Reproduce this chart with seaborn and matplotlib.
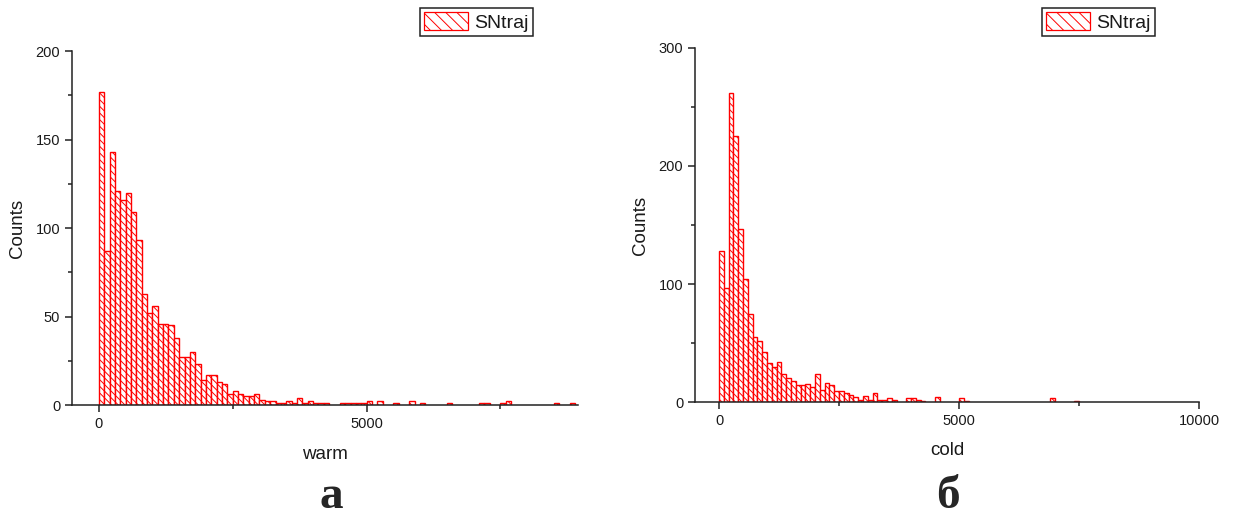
import matplotlib
matplotlib.use('Agg')
from matplotlib import pyplot as plt
import matplotlib.patches as mpatches
from matplotlib.ticker import MultipleLocator
import numpy as np
import pandas as pd
import seaborn as sns

# histogram counts, 100-wide bins starting at 0
bin_width = 100
warm_counts = [177, 87, 143, 121, 116, 120, 109, 93, 63, 52,
               56, 46, 46, 45, 38, 27, 27, 30, 23, 14,
               17, 17, 13, 12, 6, 8, 6, 5, 5, 6,
               3, 2, 2, 1, 1, 2, 1, 4, 1, 2,
               1, 1, 1, 0, 0, 1, 1, 1, 1, 1,
               2, 0, 2, 0, 0, 1, 0, 0, 2, 0,
               1, 0, 0, 0, 0, 1, 0, 0, 0, 0,
               0, 1, 1, 0, 0, 1, 2, 0, 0, 0,
               0, 0, 0, 0, 0, 1, 0, 0, 1]
cold_counts = [128, 97, 262, 225, 147, 104, 75, 55, 52, 42,
               33, 30, 34, 24, 20, 18, 14, 14, 15, 13,
               24, 10, 16, 14, 9, 9, 8, 6, 4, 2,
               5, 2, 8, 2, 2, 3, 2, 0, 0, 3,
               3, 2, 1, 0, 0, 4, 0, 0, 0, 0,
               3, 1, 0, 0, 0, 0, 0, 0, 0, 0,
               0, 0, 0, 0, 0, 0, 0, 0, 0, 3,
               0, 0, 0, 0, 1]

sns.set_style('ticks')
plt.rcParams['font.family'] = ['Liberation Sans', 'DejaVu Sans']
plt.rcParams['hatch.color'] = 'red'
plt.rcParams['hatch.linewidth'] = 0.7

HATCH_BAR = '\\\\\\\\\\'
HATCH_LEG = '\\\\\\'
TXT = '#1a1a1a'


def draw_hist(ax, counts, xlabel, xlim, ymax, ymajor):
    n = len(counts)
    df = pd.DataFrame({'value': np.arange(n) * bin_width + bin_width / 2,
                       'count': counts})
    sns.histplot(data=df, x='value', weights='count', binwidth=bin_width,
                 binrange=(0, n * bin_width), ax=ax,
                 color='white', alpha=1, linewidth=1.0)
    for p in ax.patches:
        p.set_facecolor('white')
        p.set_edgecolor('red')
        p.set_hatch(HATCH_BAR)
        if p.get_height() == 0:
            p.set_visible(False)

    ax.set_xlim(*xlim)
    ax.set_ylim(0, ymax)
    ax.xaxis.set_major_locator(MultipleLocator(5000))
    ax.xaxis.set_minor_locator(MultipleLocator(2500))
    ax.yaxis.set_major_locator(MultipleLocator(ymajor))
    ax.yaxis.set_minor_locator(MultipleLocator(ymajor / 2))
    ax.tick_params(which='major', length=5, width=1.1, colors='#222222',
                   labelcolor=TXT, labelsize=10.5)
    ax.tick_params(which='minor', length=3, width=1.1, colors='#222222')
    for side in ['top', 'right']:
        ax.spines[side].set_visible(False)
    for side in ['left', 'bottom']:
        ax.spines[side].set_linewidth(1.1)
        ax.spines[side].set_color('#222222')

    ax.set_xlabel(xlabel, fontsize=13.5, color=TXT)
    ax.set_ylabel('Counts', fontsize=13.5, color=TXT)
    ax.xaxis.label.set_va('center')
    ax.yaxis.label.set_va('center')


fig = plt.figure(figsize=(12.36, 5.17), dpi=100)
ax1 = fig.add_axes([0.0583, 0.2166, 0.4094, 0.6847])
ax2 = fig.add_axes([0.5623, 0.2224, 0.4078, 0.6848])

draw_hist(ax1, warm_counts, 'warm', (-500, 8950), 200, 50)
draw_hist(ax2, cold_counts, 'cold', (-500, 10000), 300, 100)

ax1.xaxis.set_label_coords(0.5, -0.141)
ax1.yaxis.set_label_coords(-0.107, 0.5)
ax2.xaxis.set_label_coords(0.5, -0.138)
ax2.yaxis.set_label_coords(-0.109, 0.5)

for ax, right in [(ax1, 533), (ax2, 1155)]:
    handle = mpatches.Patch(facecolor='white', edgecolor='red', hatch=HATCH_LEG,
                            linewidth=0.9, label='SNtraj')
    leg = ax.legend(handles=[handle], loc='upper right',
                    bbox_to_anchor=(right / 1236, 1 - 8 / 517),
                    bbox_transform=fig.transFigure, fontsize=14,
                    handlelength=2.27, handleheight=1.05, handletextpad=0.3,
                    borderpad=0.22, borderaxespad=0, fancybox=False,
                    framealpha=1, edgecolor='#222222')
    leg.get_frame().set_linewidth(1.1)
    for t in leg.get_texts():
        t.set_color(TXT)

fig.text(331 / 1236, 1 - 497 / 517, 'а', ha='center', va='center',
         fontsize=34, fontweight='heavy', family=['Liberation Serif', 'DejaVu Serif'])
fig.text(948 / 1236, 1 - 497 / 517, 'б', ha='center', va='center',
         fontsize=34, fontweight='heavy', family=['Liberation Serif', 'DejaVu Serif'])

plt.savefig('out.png', dpi=100)
